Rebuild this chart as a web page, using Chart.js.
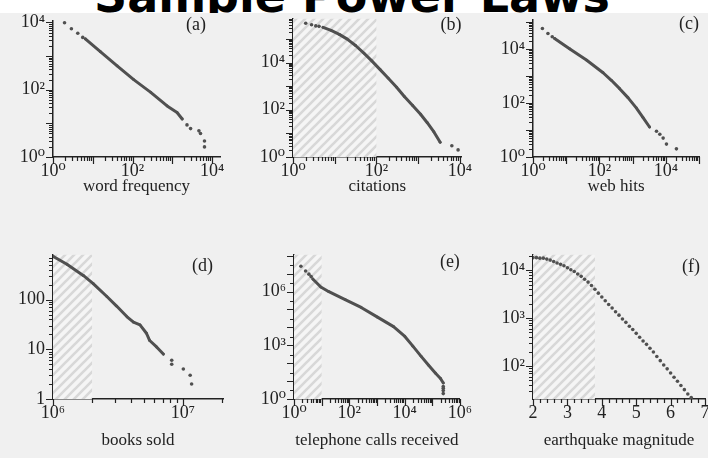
<!DOCTYPE html>
<html><head><meta charset="utf-8">
<script src="https://cdn.jsdelivr.net/npm/chart.js@4.4.1/dist/chart.umd.min.js"></script>
<style>
html,body{margin:0;padding:0;}
body{width:708px;height:458px;overflow:hidden;background:#f0f0f0;position:relative;}
canvas{position:absolute;}
#title{position:absolute;left:0;top:0;width:708px;height:13px;overflow:hidden;background:#ffffff;z-index:5;}
#title span{position:absolute;left:-2px;width:708px;text-align:center;font:bold 46px 'DejaVu Sans',sans-serif;line-height:46px;top:-27px;white-space:nowrap;color:#000;}
</style></head>
<body>
<div id="title"><span>Sample Power Laws</span></div>
<canvas id="ca"></canvas><canvas id="cb"></canvas><canvas id="cc"></canvas>
<canvas id="cd"></canvas><canvas id="ce"></canvas><canvas id="cf"></canvas>
<script>
// ---------- DATA ----------
// (a) word frequency
const aLineX = [6.5, 15.5, 41, 107, 282, 741, 1318, 1778];
const aLineY = [3240, 1350, 510, 200, 85, 33, 21, 13.5];
const aDotX = [1.95, 2.9, 4.2, 5.6, 2344, 2884, 4677, 5129, 6457, 6457];
const aDotY = [9800, 6500, 4800, 3600, 9, 7, 6, 5, 3, 2];
// (b) citations
const bLineX = [5.25, 8.2, 12.9, 20, 31.6, 50.1, 77.6, 123, 190.5, 302, 468, 741, 1148, 1660, 2399, 3388];
const bLineY = [309000, 229000, 155000, 97700, 52500, 25100, 11750, 5010, 2190, 912, 363, 151, 64.6, 28.2, 11.5, 4.2];
const bDotX = [2.02, 2.79, 3.52, 4.21, 6457, 9120];
const bDotY = [457000, 398000, 355000, 339000, 3, 2];
// (c) web hits
const cLineX = [4.47, 12.9, 40.7, 129, 229, 407, 724, 1288, 2042, 3236];
const cLineY = [24500, 10000, 3890, 1318, 692, 339, 158, 66, 29.5, 12.9];
const cDotX = [1.92, 2.82, 3.8, 5248, 6607, 8318, 10470, 20893];
const cDotY = [57500, 37200, 28200, 9, 7, 5, 3, 2];
// (d) books sold
const dLineX = [1.0e6, 1.28e6, 1.72e6, 2.04e6, 2.6e6, 3.09e6, 3.72e6, 4.17e6, 4.68e6, 5.25e6, 5.56e6, 6.31e6, 7.08e6];
const dLineY = [741, 513, 302, 209, 115, 74, 45, 35, 31, 21, 15, 11, 8];
const dDotX = [8.22e6, 8.22e6, 1.01e7, 1.14e7, 1.17e7];
const dDotY = [6, 5, 4, 3, 2];
// (e) telephone calls received
const eLineX = [4.79, 9.33, 18.2, 70.8, 269, 1047, 3981, 10233, 19950, 39800, 74100, 131800, 199500, 251000];
const eLineY = [5.0e6, 1.78e6, 9.8e5, 3.55e5, 1.29e5, 37150, 10960, 3090, 891, 240, 76, 27.5, 14.1, 7.9];
const eDotX = [1.78, 2.63, 3.47, 4.17, 251000, 251000, 251000, 251000];
const eDotY = [2.57e7, 1.41e7, 9.3e6, 6.8e6, 5, 4, 3, 2];
// (f) earthquake magnitude
const fX = [2.0,2.1,2.2,2.3,2.4,2.5,2.6,2.7,2.8,2.9,3.0,3.1,3.2,3.3,3.4,3.5,3.6,3.7,3.8,3.9,4.0,4.1,4.2,4.3,4.4,4.5,4.6,4.7,4.8,4.9,5.0,5.1,5.2,5.3,5.4,5.5,5.6,5.7,5.8,5.9,6.0,6.1,6.2,6.3,6.4,6.5,6.6];
const fY = [18200,18200,17800,17800,17000,16200,15100,14100,13200,12300,11200,10200,9330,8320,7410,6460,5620,4790,3980,3310,2750,2290,1910,1620,1350,1150,955,813,676,575,479,398,331,282,234,195,158,129,105,87,71,58,48,39,32,26,22];

// tick labels
const pow024Vals = [1, 100, 10000];
const pow024Text = ['10\u2070', '10\u00B2', '10\u2074'];
const bYVals = [1, 100, 10000, 1000000];
const bYText = ['10\u2070', '10\u00B2', '10\u2074', '10\u2076'];
const dXVals = [1e6, 1e7];
const dXText = ['10\u2076', '10\u2077'];
const dYVals = [1, 10, 100];
const dYText = ['1', '10', '100'];
const eXVals = [1, 100, 10000, 1000000];
const eXText = ['10\u2070', '10\u00B2', '10\u2074', '10\u2076'];
const eYVals = [1, 1000, 1000000];
const eYText = ['10\u2070', '10\u00B3', '10\u2076'];
const fXVals = [2, 3, 4, 5, 6, 7];
const fXText = ['2', '3', '4', '5', '6', '7'];
const fYVals = [100, 1000, 10000];
const fYText = ['10\u00B2', '10\u00B3', '10\u2074'];

// shaded ranges
const bShade = [1, 100];
const dShade = [1e6, 2e6];
const eShade = [1, 10];
const fShade = [2, 3.8];

// ---------- HELPERS ----------
Chart.defaults.font.family = "'Liberation Serif', 'DejaVu Serif', serif";
Chart.defaults.color = '#222';
const INK = '#505050';
function zip(xs, ys) { return xs.map((x, i) => ({x: x, y: ys[i]})); }
function logTicks(min, max, mults) {
  const out = [];
  for (let e = Math.floor(Math.log10(min)) - 1; e <= Math.ceil(Math.log10(max)); e++) {
    for (const m of mults) {
      const v = m * Math.pow(10, e);
      if (v >= min * 0.9999 && v <= max * 1.0001) out.push(v);
    }
  }
  return out;
}
function linTicks(min, max, step) {
  const out = [];
  for (let v = min; v <= max + 1e-9; v += step) out.push(Math.round(v * 1000) / 1000);
  return out;
}
function isMajor(v, type) {
  if (type === 'logarithmic') { const l = Math.log10(v); return Math.abs(l - Math.round(l)) < 1e-6; }
  return Math.abs(v - Math.round(v)) < 1e-6;
}
function labelFor(v, vals, txt, type) {
  for (let i = 0; i < vals.length; i++) {
    const d = type === 'logarithmic' ? Math.abs(Math.log10(v) - Math.log10(vals[i])) : Math.abs(v - vals[i]);
    if (d < 1e-6) return txt[i];
  }
  return '';
}
let patternCache = null;
function stripe(ctx) {
  if (patternCache) return patternCache;
  const c = document.createElement('canvas'); c.width = 9; c.height = 9;
  const g = c.getContext('2d');
  g.fillStyle = '#f5f5f5'; g.fillRect(0, 0, 9, 9);
  g.strokeStyle = '#d8d8d8'; g.lineWidth = 2.6;
  g.beginPath();
  g.moveTo(-1, 10); g.lineTo(10, -1);
  g.moveTo(-1, 1); g.lineTo(1, -1);
  g.moveTo(8, 10); g.lineTo(10, 8);
  g.stroke();
  patternCache = ctx.createPattern(c, 'repeat');
  return patternCache;
}
const shadePlugin = {
  id: 'shade',
  beforeDatasetsDraw(chart) {
    const p = chart.$panel; if (!p.shade) return;
    const {ctx, chartArea: a} = chart; const xs = chart.scales.x;
    const x1 = Math.max(a.left, xs.getPixelForValue(p.shade[0]));
    const x2 = Math.min(a.right, xs.getPixelForValue(p.shade[1]));
    ctx.save(); ctx.fillStyle = stripe(ctx); ctx.fillRect(x1, a.top, x2 - x1, a.bottom - a.top); ctx.restore();
  }
};
const marksPlugin = {
  id: 'marks',
  afterDraw(chart) {
    const p = chart.$panel; const {ctx, chartArea: a} = chart;
    ctx.save(); ctx.strokeStyle = '#222'; ctx.lineWidth = 1.2;
    const xs = chart.scales.x, ys = chart.scales.y;
    ctx.beginPath();
    xs.ticks.forEach(t => {
      const px = Math.round(xs.getPixelForValue(t.value)) + 0.5;
      const len = isMajor(t.value, p.xType) ? 7 : 4;
      ctx.moveTo(px, a.bottom); ctx.lineTo(px, a.bottom + len);
    });
    ys.ticks.forEach(t => {
      const py = Math.round(ys.getPixelForValue(t.value)) + 0.5;
      const len = isMajor(t.value, 'logarithmic') ? 7 : 4;
      ctx.moveTo(a.left, py); ctx.lineTo(a.left - len, py);
    });
    ctx.stroke();
    // panel tag
    ctx.fillStyle = '#222'; ctx.font = "18px 'Liberation Serif', serif";
    ctx.textAlign = 'right'; ctx.textBaseline = 'middle';
    ctx.fillText(p.tag, a.right + p.tagDx, a.top + p.tagDy);
    ctx.restore();
  }
};

function panel(id, p) {
  const YW = 50, PT = 12, PR = 10;
  const cv = document.getElementById(id);
  const W = (p.R - p.L) + YW + PR, H = (p.B - p.T) + PT + p.xh;
  cv.width = W; cv.height = H;
  cv.style.left = (p.L - YW) + 'px'; cv.style.top = (p.T - PT) + 'px';
  cv.style.width = W + 'px'; cv.style.height = H + 'px';
  const datasets = [];
  if (p.lineX) datasets.push({data: zip(p.lineX, p.lineY), showLine: true, borderColor: INK, borderWidth: 3,
    borderCapStyle: 'round', borderJoinStyle: 'round', pointRadius: 1.4, pointBackgroundColor: INK, pointBorderWidth: 0});
  datasets.push({data: zip(p.dotX, p.dotY), showLine: false, pointRadius: 1.8, pointBackgroundColor: INK, pointBorderWidth: 0});
  return new Chart(cv, {
    type: 'scatter',
    data: {datasets: datasets},
    options: {
      responsive: false, animation: false, devicePixelRatio: 1,
      layout: {padding: {top: PT, right: PR, left: 0, bottom: 0}},
      plugins: {legend: {display: false}, tooltip: {enabled: false}},
      scales: {
        x: {type: p.xType, min: p.xMin, max: p.xMax,
          grid: {display: false, drawTicks: false},
          border: {display: true, color: '#222', width: 1.5},
          ticks: {autoSkip: false, maxRotation: 0, minRotation: 0, padding: 3, color: '#222', font: {size: 18},
            callback: (v) => labelFor(v, p.xLabVals, p.xLabText, p.xType)},
          afterBuildTicks: (s) => { s.ticks = p.xTicks.map(v => ({value: v})); },
          afterFit: (s) => { s.height = p.xh; },
          title: {display: true, text: p.xTitle, padding: 0, color: '#222', font: {size: 17}}
        },
        y: {type: 'logarithmic', min: p.yMin, max: p.yMax,
          grid: {display: false, drawTicks: false},
          border: {display: true, color: '#222', width: 1.5},
          ticks: {autoSkip: false, padding: 8, color: '#222', font: {size: 18},
            callback: (v) => labelFor(v, p.yLabVals, p.yLabText, 'logarithmic')},
          afterBuildTicks: (s) => { s.ticks = p.yTicks.map(v => ({value: v})); },
          afterFit: (s) => { s.width = YW; }
        }
      }
    },
    plugins: [{id: 'bind', beforeInit(c) { c.$panel = p; }}, shadePlugin, marksPlugin]
  });
}

const M9 = [1,2,3,4,5,6,7,8,9];
panel('ca', {L: 53, T: 14, R: 220, B: 157, xh: 40, xType: 'logarithmic',
  xMin: 1, xMax: Math.pow(10, 4.2), yMin: 1, yMax: Math.pow(10, 4.05),
  xTicks: logTicks(1, Math.pow(10, 4.2), M9), yTicks: logTicks(1, Math.pow(10, 4.05), M9),
  xLabVals: pow024Vals, xLabText: pow024Text, yLabVals: pow024Vals, yLabText: pow024Text,
  lineX: aLineX, lineY: aLineY, dotX: aDotX, dotY: aDotY,
  xTitle: 'word frequency', tag: '(a)', tagDx: -14, tagDy: 4});
panel('cb', {L: 293, T: 12, R: 465, B: 157, xh: 40, xType: 'logarithmic',
  xMin: 1, xMax: Math.pow(10, 4.04), yMin: 1, yMax: Math.pow(10, 5.85),
  xTicks: logTicks(1, Math.pow(10, 4.04), M9), yTicks: logTicks(1, Math.pow(10, 5.85), M9),
  xLabVals: pow024Vals, xLabText: pow024Text, yLabVals: bYVals, yLabText: bYText,
  lineX: bLineX, lineY: bLineY, dotX: bDotX, dotY: bDotY, shade: bShade,
  xTitle: 'citations', tag: '(b)', tagDx: 0, tagDy: 6});
panel('cc', {L: 533, T: 13, R: 699, B: 157, xh: 40, xType: 'logarithmic',
  xMin: 1, xMax: 1e5, yMin: 1, yMax: Math.pow(10, 5.08),
  xTicks: logTicks(1, 1e5, M9), yTicks: logTicks(1, Math.pow(10, 5.08), M9),
  xLabVals: pow024Vals, xLabText: pow024Text, yLabVals: pow024Vals, yLabText: pow024Text,
  lineX: cLineX, lineY: cLineY, dotX: cDotX, dotY: cDotY,
  xTitle: 'web hits', tag: '(c)', tagDx: 0, tagDy: 4});
panel('cd', {L: 53, T: 248, R: 223, B: 399, xh: 52, xType: 'logarithmic',
  xMin: 1e6, xMax: Math.pow(10, 7.31), yMin: 1, yMax: Math.pow(10, 2.9),
  xTicks: logTicks(1e6, Math.pow(10, 7.31), M9), yTicks: logTicks(1, Math.pow(10, 2.9), M9),
  xLabVals: dXVals, xLabText: dXText, yLabVals: dYVals, yLabText: dYText,
  lineX: dLineX, lineY: dLineY, dotX: dDotX, dotY: dDotY, shade: dShade,
  xTitle: 'books sold', tag: '(d)', tagDx: -10, tagDy: 11});
panel('ce', {L: 294, T: 248, R: 465, B: 399, xh: 52, xType: 'logarithmic',
  xMin: 1, xMax: 1e6, yMin: 1, yMax: Math.pow(10, 8.05),
  xTicks: logTicks(1, 1e6, M9), yTicks: logTicks(1, Math.pow(10, 8.05), [1, 3]),
  xLabVals: eXVals, xLabText: eXText, yLabVals: eYVals, yLabText: eYText,
  lineX: eLineX, lineY: eLineY, dotX: eDotX, dotY: eDotY, shade: eShade,
  xTitle: 'telephone calls received', tag: '(e)', tagDx: 0, tagDy: 7});
panel('cf', {L: 533, T: 248, R: 705, B: 399, xh: 52, xType: 'linear',
  xMin: 2, xMax: 7, yMin: Math.pow(10, 1.31), yMax: Math.pow(10, 4.32),
  xTicks: linTicks(2, 7, 0.2), yTicks: logTicks(Math.pow(10, 1.31), Math.pow(10, 4.32), M9),
  xLabVals: fXVals, xLabText: fXText, yLabVals: fYVals, yLabText: fYText,
  dotX: fX, dotY: fY, shade: fShade,
  xTitle: 'earthquake magnitude', tag: '(f)', tagDx: -5, tagDy: 12});
</script>
</body></html>
